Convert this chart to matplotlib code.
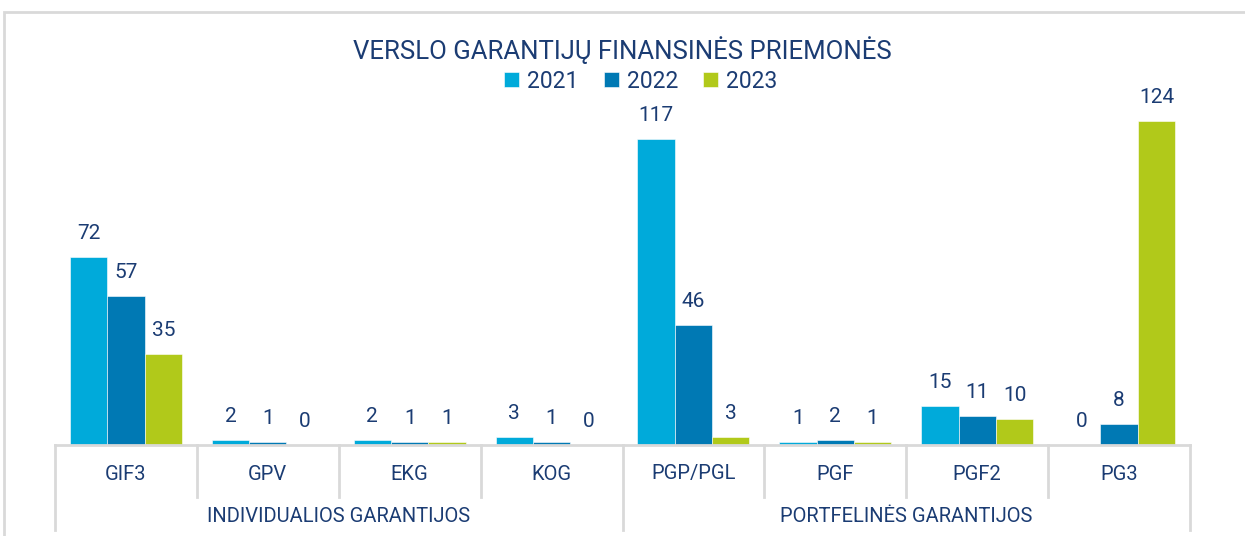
import matplotlib
matplotlib.use("Agg")
import matplotlib.pyplot as plt
from matplotlib import font_manager
import matplotlib.transforms as mtransforms
from matplotlib.patches import Rectangle

# ---- data ----
categories = ["GIF3", "GPV", "EKG", "KOG", "PGP/PGL", "PGF", "PGF2", "PG3"]
groups = ["INDIVIDUALIOS GARANTIJOS", "PORTFELINĖS GARANTIJOS"]
group_sizes = [4, 4]
series_names = ["2021", "2022", "2023"]
v2021 = [72, 2, 2, 3, 117, 1, 15, 0]
v2022 = [57, 1, 1, 1, 46, 2, 11, 8]
v2023 = [35, 0, 1, 0, 3, 1, 10, 124]
title = "VERSLO GARANTIJŲ FINANSINĖS PRIEMONĖS"

colors = ["#00AADA", "#0079B4", "#B1C91A"]
text_color = "#1B3C73"
grid_gray = "#D9D9D9"

avail = {f.name for f in font_manager.fontManager.ttflist}
fam = "Liberation Sans Narrow" if "Liberation Sans Narrow" in avail else "Roboto"
plt.rcParams['font.family'] = [fam, 'DejaVu Sans']

W, H = 1245, 536
fig = plt.figure(figsize=(W / 100, H / 100), dpi=100)

def fx(px):
    return px / W

def fy(py):
    return 1 - py / H

ax_left, ax_right, ax_top, ax_bottom = 55, 1190, 100, 445
ax = fig.add_axes([fx(ax_left), fy(ax_bottom), fx(ax_right - ax_left), (ax_bottom - ax_top) / H])

n = len(categories)
x = list(range(n))
bw = 0.263
series = [v2021, v2022, v2023]
for i, (vals, c, name) in enumerate(zip(series, colors, series_names)):
    xs = [xi + (i - 1) * bw for xi in x]
    ax.bar(xs, vals, width=bw, color=c, label=name, edgecolor="white", linewidth=0.4, zorder=2)
    for xi, v in zip(xs, vals):
        ax.annotate(str(v), (xi, v), xytext=(0, 10), textcoords="offset points",
                    ha="center", va="bottom", fontsize=15, color=text_color)

ax.set_xlim(-0.5, n - 0.5)
ax.set_ylim(0, 132)
for s in ["top", "right", "left"]:
    ax.spines[s].set_visible(False)
ax.spines["bottom"].set_color(grid_gray)
ax.spines["bottom"].set_linewidth(2)
ax.set_yticks([])
ax.set_xticks([])

trans = mtransforms.blended_transform_factory(ax.transData, ax.transAxes)
ax_h = ax_bottom - ax_top

def ay(py):
    return (ax_bottom - py) / ax_h

# category labels
for xi, cat in zip(x, categories):
    ax.text(xi, ay(474), cat, transform=trans, ha="center", va="center",
            fontsize=14.5, color=text_color)

# separators
pos = 0
group_bounds = [-0.5]
for gs in group_sizes:
    pos += gs
    group_bounds.append(pos - 0.5)
for b in [i - 0.5 for i in range(n + 1)]:
    y_end = ay(530) if b in group_bounds else ay(497)
    ax.plot([b, b], [0, y_end], transform=trans, color=grid_gray, lw=2, clip_on=False)

# group labels
start = 0
for g, gs in zip(groups, group_sizes):
    center = start + (gs - 1) / 2
    ax.text(center, ay(516), g, transform=trans, ha="center", va="center",
            fontsize=14.5, color=text_color)
    start += gs

# title
fig.text(0.5, fy(50), title, ha="center", va="center", fontsize=18.5, color=text_color)

# legend
fig.legend(loc="center", bbox_to_anchor=(fx(641), fy(81)), ncol=3, frameon=False,
           fontsize=16.5, handlelength=0.65, handleheight=0.65, handletextpad=0.35,
           columnspacing=1.1, labelcolor=text_color)

# outer chart border
fig.patches.append(Rectangle((fx(4), fy(H + 10)), fx(W + 10), (H + 10 - 12) / H,
                             transform=fig.transFigure, fill=False,
                             edgecolor=grid_gray, lw=2, zorder=0))

fig.savefig("out.png", dpi=100)
